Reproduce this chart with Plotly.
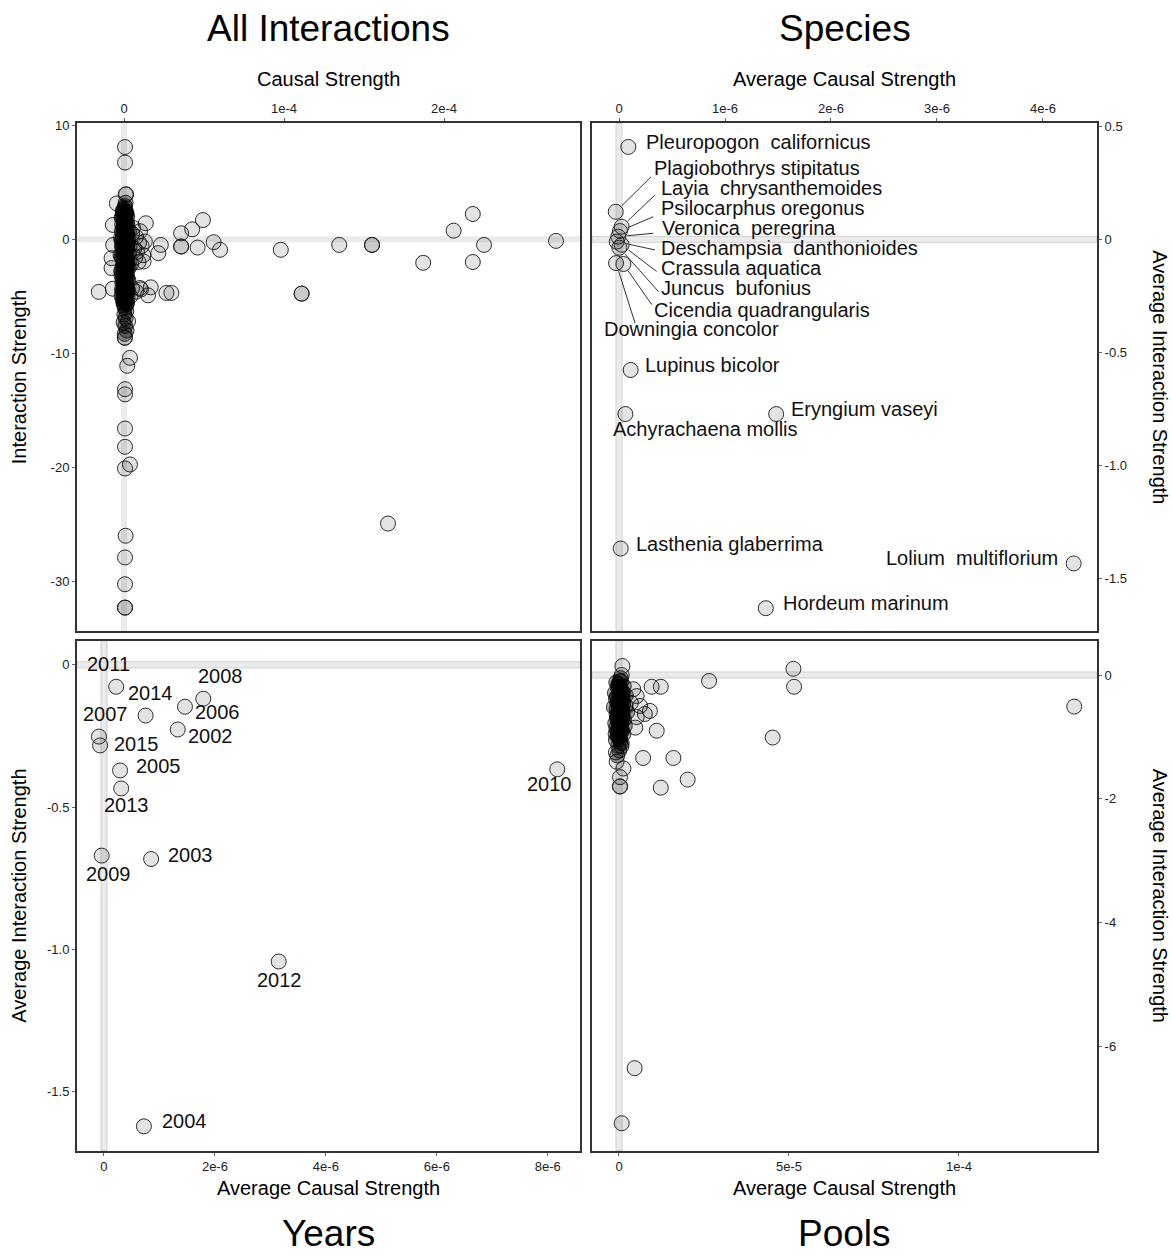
import plotly.graph_objects as go

# ---------------- DATA ----------------
# All Interactions: (causal strength in units of 1e-6, interaction strength)
ai_core = [
    (0.0, 2.6), (1.2, 2.2), (-1.5, 1.9), (0.8, 1.5), (2.1, 1.2), (-0.6, 0.9), (1.6, 0.6),
    (0.3, 0.3), (-1.9, 0.1), (2.6, -0.2), (0.5, -0.4), (-1.1, -0.7), (1.8, -0.9), (0.2, -1.2),
    (-2.2, -1.4), (1.1, -1.7), (0.0, -1.9), (2.4, -2.2), (-0.9, -2.4), (1.4, -2.7), (0.4, -2.9),
    (-1.6, -3.2), (2.0, -3.4), (0.7, -3.7), (-0.4, -3.9), (1.5, -4.2), (-1.3, -4.4), (0.9, -4.7),
    (0.1, -4.9), (2.2, -5.1), (-0.7, -5.3), (1.0, -5.5),
    (0.6, 2.9), (-0.8, 2.4), (2.0, 2.0), (0.1, 1.7), (-1.2, 1.3), (1.4, 1.0), (3.1, 0.7),
    (-0.3, 0.5), (1.0, 0.2), (2.3, 0.0), (-1.4, -0.2), (0.8, -0.5), (3.4, -0.6), (-0.5, -0.9),
    (1.3, -1.0), (2.9, -1.3), (-1.0, -1.6), (0.6, -1.8), (1.9, -2.0), (-0.2, -2.3), (3.0, -2.5),
    (0.9, -2.6), (-1.8, -2.8), (1.7, -3.0), (0.0, -3.3), (2.7, -3.6), (-1.1, -3.8), (1.2, -4.0),
    (0.3, -4.3), (2.5, -4.5), (-0.6, -4.6), (1.6, -4.8), (0.5, -5.2), (-1.5, -5.0), (1.9, -5.6),
    (0.2, -5.8),
    (1.0, 3.2), (-0.3, 2.1), (0.7, 1.1), (-0.9, 0.0), (0.4, -0.8), (-0.2, -1.5), (1.5, -2.4),
    (-0.5, -3.0), (0.8, -3.5), (-0.1, -4.1), (1.3, -4.4), (0.0, -4.7), (0.6, -5.0), (1.1, -2.0),
    (0.2, 0.8), (1.8, 0.4), (0.9, 1.9), (-0.4, -5.6),
    (0.3, 2.75), (-0.5, 2.55), (1.5, 2.35), (0.9, 2.05), (-1.0, 1.85), (0.4, 1.62), (1.9, 1.38),
    (-0.2, 1.18), (1.1, 0.95), (-1.3, 0.72), (0.6, 0.52), (2.0, 0.35), (-0.7, 0.15), (1.3, -0.05),
    (0.0, -0.28), (2.1, -0.45), (-1.2, -0.62), (0.9, -0.78), (-0.3, -1.02), (1.6, -1.18),
    (0.5, -1.38), (-1.5, -1.55), (2.2, -1.72), (0.1, -1.98), (1.2, -2.12), (-0.6, -2.32),
    (2.0, -2.45), (0.3, -2.62), (-1.2, -2.78), (1.1, -2.95), (0.2, -3.12), (1.8, -3.28),
    (-0.8, -3.45), (0.6, -3.62), (1.4, -3.82), (-0.3, -4.02), (0.8, -4.18), (2.0, -4.35),
    (-1.0, -4.55), (0.4, -4.72), (1.5, -4.95), (-0.4, -5.12), (0.9, -5.32), (0.1, -5.45),
    (1.4, -5.7),
    (0.7, 2.45), (0.0, 1.45), (1.0, 0.45), (-0.4, -0.55), (0.7, -1.45), (-0.1, -2.55),
    (1.0, -3.35), (0.2, -4.45), (0.8, -5.1), (0.5, 1.0), (0.3, -0.1), (0.6, -2.1), (0.1, -3.0),
    (0.9, -4.0), (0.4, -1.0), (0.0, -2.9), (0.6, -3.9), (0.2, 0.6), (1.2, 1.6), (-0.6, 2.3),
    (0.5, -6.0), (1.4, -6.3), (0.2, -6.6), (1.0, -6.9), (-0.3, -7.3), (0.8, -7.6), (1.6, -8.0),
    (0.4, -8.3),
]
ai_spread = [
    (5.0, 0.5), (7.5, 0.2), (9.4, -0.3), (6.3, -0.8), (11.0, -0.6), (8.1, -1.1), (13.0, -0.2),
    (5.6, 1.0), (10.0, 0.7), (7.0, -1.6), (12.0, -1.4), (4.4, -2.2), (9.0, -2.0),
    (5.0, -4.3), (7.5, -4.6), (10.6, -4.4), (4.0, -5.0),
]
ai_outliers = [
    (0.6, 8.08), (0.6, 6.72), (1.0, 3.93), (1.3, 3.93), (-4.5, 3.14), (-7.0, 1.25), (13.6, 1.40),
    (49.3, 1.68), (42.6, 0.87), (35.7, 0.52), (35.7, -0.64), (35.7, -0.64), (46.0, -0.73),
    (56.0, -0.26), (60.0, -0.93), (23.0, -0.50), (21.4, -1.22), (-7.8, -1.66), (-7.8, -2.53),
    (-6.8, -0.50), (-15.8, -4.62), (-7.0, -4.34), (16.7, -4.22), (15.0, -4.92), (26.5, -4.71),
    (29.6, -4.71), (10.0, -4.28), (12.2, -1.95), (2.5, -7.19), (0.5, -8.64), (0.5, -8.64),
    (3.7, -10.4), (2.0, -11.1), (0.6, -13.15), (0.6, -13.6), (0.6, -16.6), (0.6, -18.2),
    (3.7, -19.75), (0.6, -20.1), (1.0, -26.0), (0.6, -27.9), (0.6, -30.25), (0.6, -32.3),
    (0.6, -32.3),
    (98.0, -0.93), (111.0, -4.77), (111.0, -4.77), (134.5, -0.50), (155.0, -0.50),
    (155.0, -0.50), (187.0, -2.07), (206.0, 0.75), (218.0, 2.21), (225.0, -0.50),
    (218.0, -2.00), (270.0, -0.15), (165.0, -24.93),
]

# Species: average causal strength (units of 1e-6) and average interaction strength
sp_names = [
    "Pleuropogon\u00a0 californicus", "Plagiobothrys stipitatus", "Layia\u00a0 chrysanthemoides",
    "Psilocarphus oregonus", "Veronica\u00a0 peregrina", "Deschampsia\u00a0 danthonioides",
    "Crassula aquatica", "Juncus\u00a0 bufonius", "Cicendia quadrangularis", "Downingia concolor",
    "Lupinus bicolor", "Achyrachaena mollis", "Eryngium vaseyi", "Lasthenia glaberrima",
    "Lolium\u00a0 multiflorium", "Hordeum marinum",
]
sp_x_micro = [0.088, -0.031, 0.025, 0.009, -0.007, -0.022, 0.025, 0.003, 0.041, -0.028,
              0.11, 0.06, 1.483, 0.016, 4.29, 1.385]
sp_y = [0.409, 0.122, 0.056, 0.037, 0.012, -0.010, -0.024, -0.037, -0.109, -0.105,
        -0.578, -0.773, -0.773, -1.368, -1.434, -1.632]

# Years
yr_names = ["2011", "2014", "2008", "2006", "2002", "2007", "2015", "2005", "2013",
            "2003", "2009", "2012", "2004", "2010"]
yr_x_micro = [0.22, 0.75, 1.79, 1.46, 1.33, -0.09, -0.07, 0.29, 0.31, 0.85, -0.04, 3.15, 0.72, 8.17]
yr_y = [-0.077, -0.178, -0.119, -0.147, -0.227, -0.252, -0.283, -0.371, -0.434, -0.682,
        -0.670, -1.042, -1.621, -0.367]

# Pools: (average causal strength in units of 1e-6, average interaction strength)
pl_core = [
    (0.5, -0.05), (-0.8, -0.12), (1.4, -0.18), (0.1, -0.24), (-1.2, -0.29), (2.0, -0.33),
    (0.7, -0.38), (-0.4, -0.43), (1.2, -0.47), (-1.5, -0.52), (0.3, -0.56), (2.4, -0.60),
    (-0.7, -0.64), (1.0, -0.69), (0.0, -0.73), (-1.1, -0.78), (1.7, -0.82), (0.4, -0.86),
    (-0.5, -0.91), (1.3, -0.95), (0.2, -1.00), (-0.9, -1.05), (0.8, -1.10), (0.0, -0.15),
    (1.1, -0.28), (-0.3, -0.62), (0.6, -0.80), (1.9, -0.50), (-0.6, -0.35), (0.9, -0.55),
    (0.2, -0.42), (-1.0, -0.95), (1.5, -0.72), (0.4, -0.20), (-0.2, -0.88), (0.7, -1.15),
    (0.1, -1.22), (-0.5, -1.30),
    (0.2, -0.10), (-0.4, -0.20), (0.8, -0.25), (0.0, -0.32), (-0.9, -0.38), (0.6, -0.45),
    (-0.2, -0.50), (1.0, -0.58), (0.3, -0.66), (-0.6, -0.70), (0.5, -0.76), (-0.1, -0.84),
    (0.9, -0.90), (-0.4, -0.98), (0.2, -1.04), (0.6, -0.10), (-0.7, -0.55), (0.1, -0.60),
    (0.4, -0.90), (-0.3, -0.75), (0.7, -0.35), (0.0, -0.95), (0.3, -0.30), (-0.5, -0.45),
    (0.9, -0.70), (0.1, -0.80), (-0.2, -0.15), (0.5, -0.55), (-0.8, -0.85), (0.4, -1.08),
    (1.2, -0.40), (0.0, -0.50), (0.2, -0.20), (-0.3, -0.65), (0.6, -0.92), (0.0, -0.40),
    (0.3, -0.70), (-0.1, -1.00), (0.5, -0.25), (0.8, -0.62),
]
pl_outliers = [
    (-0.7, -1.40), (1.3, -1.51), (0.3, -1.65), (-0.9, -1.25), (-0.2, -1.14), (0.3, -1.80),
    (0.3, -1.80), (1.0, 0.145), (0.8, 0.0),
    (5.2, -0.34), (6.2, -0.50), (7.6, -0.63), (5.2, -0.68), (4.2, -0.23), (3.5, -0.45),
    (4.8, -0.85), (9.6, -0.19), (12.3, -0.19), (9.1, -0.58), (11.1, -0.90), (7.1, -1.34),
    (16.0, -1.34), (20.2, -1.69), (12.3, -1.82), (26.5, -0.096), (51.3, 0.10), (51.5, -0.19),
    (45.2, -1.01), (133.9, -0.51), (4.6, -6.35), (0.8, -7.24),
]

# ---------------- STYLE / LAYOUT HELPERS ----------------
FONT = "Liberation Sans, Arial, sans-serif"
W, H = 1172, 1256
LIFT = 5  # visual text centring correction (px)


def px_x(p):
    return p / W


def px_y(p):
    return 1 - p / H


L_DOM = [px_x(77), px_x(580)]
R_DOM = [px_x(592), px_x(1097)]
T_DOM = [px_y(628), px_y(118)]
B_DOM = [px_y(1150), px_y(638)]

marker_light = dict(size=15, color="rgba(0,0,0,0.11)",
                    line=dict(color="rgba(25,25,25,0.9)", width=1))
marker_dense = dict(size=15, color="rgba(0,0,0,0.32)",
                    line=dict(color="rgba(0,0,0,0.75)", width=1))

fig = go.Figure()


def add_points(xs, ys, xa, ya, mk):
    fig.add_trace(go.Scatter(x=xs, y=ys, mode="markers", marker=mk,
                             xaxis=xa, yaxis=ya, hoverinfo="skip", showlegend=False))


def unzip(pairs):
    return [p[0] * 1e-6 for p in pairs], [p[1] for p in pairs]


ai_lx, ai_ly = unzip(ai_outliers + ai_spread)
ai_cx, ai_cy = unzip(ai_core)
pl_lx, pl_ly = unzip(pl_outliers)
pl_cx, pl_cy = unzip(pl_core)
sp_x = [v * 1e-6 for v in sp_x_micro]
yr_x = [v * 1e-6 for v in yr_x_micro]

# reference bands at zero (drawn in pixel width)
shapes = []
for xr, yr, edge in [("x", "y", None), ("x2", "y2", "#d2d2d2"),
                     ("x3", "y3", "#cfcfcf"), ("x4", "y4", "#cfcfcf")]:
    ln = dict(width=1, color=edge) if edge else dict(width=0)
    shapes.append(dict(type="rect", xref=xr, yref=yr + " domain", xsizemode="pixel",
                       xanchor=0, x0=-3, x1=3, y0=0, y1=1, fillcolor="#ebebeb",
                       line=ln, layer="below"))
    shapes.append(dict(type="rect", yref=yr, xref=xr + " domain", ysizemode="pixel",
                       yanchor=0, y0=-3, y1=3, x0=0, x1=1, fillcolor="#ebebeb",
                       line=ln, layer="below"))

add_points(ai_lx, ai_ly, "x", "y", marker_light)
add_points(ai_cx, ai_cy, "x", "y", marker_dense)
add_points(sp_x, sp_y, "x2", "y2", marker_light)
add_points(yr_x, yr_y, "x3", "y3", marker_light)
add_points(pl_lx, pl_ly, "x4", "y4", marker_light)
add_points(pl_cx, pl_cy, "x4", "y4", marker_dense)

annotations = []

# species labels: (anchor, dx px, dy px up)
sp_label_pos = [
    ("left", 16, 0), ("left", 36, 38.7), ("left", 37.3, 33.4), ("left", 39, 17.7),
    ("left", 41.7, 3.4), ("left", 42.3, -11.6), ("left", 37.3, -28.3), ("left", 39.7, -45.3),
    ("left", 28.7, -50.7), ("left", -14, -71), ("left", 12.7, 0), ("center", 80, -20),
    ("left", 12.7, 0), ("left", 13, 0), ("right", -14, 0), ("left", 14.8, 0),
]
# leader line end points (px relative to point, y up)
sp_leader_end = {1: (35.3, 35), 2: (33.3, 31.7), 3: (33.3, 14.3), 4: (35, 3.4),
                 5: (38.3, -8.3), 6: (35, -26.7), 7: (39, -43.7), 8: (28.4, -40.7),
                 9: (19, -60)}

for i, name in enumerate(sp_names):
    anc, dx, dy = sp_label_pos[i]
    annotations.append(dict(x=sp_x[i], y=sp_y[i], xref="x2", yref="y2", text=name,
                            showarrow=False, xanchor=anc, yanchor="middle",
                            xshift=dx, yshift=dy + LIFT,
                            font=dict(family=FONT, size=20, color="#111")))
    if i in sp_leader_end:
        ex, ey = sp_leader_end[i]
        d = (ex ** 2 + ey ** 2) ** 0.5
        sx, sy = ex / d * 8.5, ey / d * 8.5
        shapes.append(dict(type="line", xref="x2", yref="y2", xsizemode="pixel",
                           ysizemode="pixel", xanchor=sp_x[i], yanchor=sp_y[i],
                           x0=sx, y0=sy, x1=ex, y1=ey,
                           line=dict(color="#333", width=1)))

# year labels (center anchored, dx px, dy px up)
yr_label_pos = [(-7.7, 17.3), (5, 18), (17, 18), (32.5, -10), (33, -12), (6.5, 18),
                (36, -4), (38, -1), (5, -22), (39, -1), (7, -23), (1, -24), (41, 0), (-8, -20)]
for i, name in enumerate(yr_names):
    dx, dy = yr_label_pos[i]
    annotations.append(dict(x=yr_x[i], y=yr_y[i], xref="x3", yref="y3", text=name,
                            showarrow=False, xanchor="center", yanchor="middle",
                            xshift=dx, yshift=dy + LIFT,
                            font=dict(family=FONT, size=20, color="#111")))


# panel titles and axis titles
def ptext(text, x, y, size, angle=0):
    annotations.append(dict(text=text, x=px_x(x), y=px_y(y), xref="paper", yref="paper",
                            showarrow=False, xanchor="center", yanchor="middle",
                            textangle=angle, font=dict(family=FONT, size=size, color="#000")))


ptext("All Interactions", 328.5, 23, 37)
ptext("Species", 844.5, 23, 37)
ptext("Years", 328.5, 1233, 37)
ptext("Pools", 844.5, 1233, 37)
ptext("Causal Strength", 328.5, 73, 20)
ptext("Average Causal Strength", 844.5, 73, 20)
ptext("Average Causal Strength", 328.5, 1188, 20)
ptext("Average Causal Strength", 844.5, 1188, 20)
ptext("Interaction Strength", 19, 373, 20, -90)
ptext("Average Interaction Strength", 19, 894, 20, -90)
ptext("Average Interaction Strength", 1160, 373, 20, 90)
ptext("Average Interaction Strength", 1160, 894, 20, 90)

axis_common = dict(showline=True, mirror=True, linecolor="#333", linewidth=2,
                   ticks="outside", ticklen=3, tickcolor="#666", tickwidth=1,
                   showgrid=False, zeroline=False,
                   tickfont=dict(family=FONT, size=13, color="#222"))

fig.update_layout(
    width=W, height=H, margin=dict(l=0, r=0, t=0, b=0),
    paper_bgcolor="white", plot_bgcolor="white", showlegend=False,
    shapes=shapes, annotations=annotations,
    xaxis=dict(domain=L_DOM, anchor="y", side="top", range=[-2.94e-5, 2.85e-4],
               tickvals=[0, 1e-4, 2e-4], ticktext=["0", "1e-4", "2e-4"], **axis_common),
    yaxis=dict(domain=T_DOM, anchor="x", range=[-34.35, 10.15],
               tickvals=[10, 0, -10, -20, -30], ticktext=["10", "0", "-10", "-20", "-30"],
               **axis_common),
    xaxis2=dict(domain=R_DOM, anchor="y2", side="top", range=[-0.255e-6, 4.51e-6],
                tickvals=[0, 1e-6, 2e-6, 3e-6, 4e-6],
                ticktext=["0", "1e-6", "2e-6", "3e-6", "4e-6"], **axis_common),
    yaxis2=dict(domain=T_DOM, anchor="x2", side="right", range=[-1.733, 0.513],
                tickvals=[0.5, 0, -0.5, -1.0, -1.5],
                ticktext=["0.5", "0", "-0.5", "-1.0", "-1.5"], **axis_common),
    xaxis3=dict(domain=L_DOM, anchor="y3", side="bottom", range=[-0.486e-6, 8.58e-6],
                tickvals=[0, 2e-6, 4e-6, 6e-6, 8e-6],
                ticktext=["0", "2e-6", "4e-6", "6e-6", "8e-6"], **axis_common),
    yaxis3=dict(domain=B_DOM, anchor="x3", range=[-1.706, 0.084],
                tickvals=[0, -0.5, -1.0, -1.5], ticktext=["0", "-0.5", "-1.0", "-1.5"],
                **axis_common),
    xaxis4=dict(domain=R_DOM, anchor="y4", side="bottom", range=[-7.94e-6, 1.406e-4],
                tickvals=[0, 5e-5, 1e-4], ticktext=["0", "5e-5", "1e-4"], **axis_common),
    yaxis4=dict(domain=B_DOM, anchor="x4", side="right", range=[-7.68, 0.55],
                tickvals=[0, -2, -4, -6], ticktext=["0", "-2", "-4", "-6"], **axis_common),
)

fig.write_html("out.html")
